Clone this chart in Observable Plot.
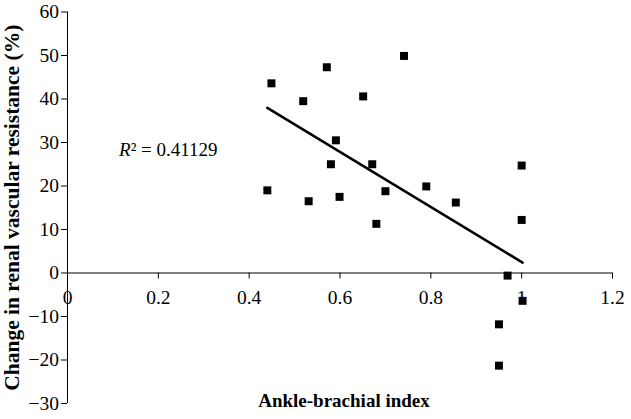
<!DOCTYPE html>
<html>
<head>
<meta charset="utf-8">
<script src="https://cdn.jsdelivr.net/npm/d3@7"></script>
<script src="https://cdn.jsdelivr.net/npm/@observablehq/plot@0.6"></script>
<style>
  html, body { margin: 0; padding: 0; background: #fff; }
  #chart svg { display: block; }
  #chart svg text { font-family: 'Liberation Serif', 'Times New Roman', serif; }
</style>
</head>
<body>
<div id="chart"></div>
<script>
// Ankle-brachial index (x) vs change in renal vascular resistance % (y)
const abi = [0.44, 0.449, 0.519, 0.571, 0.651, 0.741, 0.591, 0.580, 0.671, 0.531, 0.599,
             0.70, 0.79, 0.855, 0.68, 1.0, 1.0, 0.969, 1.002, 0.95, 0.95];
const rvrChange = [19.0, 43.6, 39.5, 47.3, 40.6, 49.9, 30.5, 25.0, 25.0, 16.5, 17.5,
                   18.8, 19.9, 16.2, 11.3, 24.7, 12.2, -0.6, -6.4, -11.8, -21.3];

const xTicks = [0, 0.2, 0.4, 0.6, 0.8, 1.0, 1.2];
const xTickLabels = ["0", "0.2", "0.4", "0.6", "0.8", "1", "1.2"];
const yTicks = [-30, -20, -10, 0, 10, 20, 30, 40, 50, 60];
const yTickLabels = ["−30", "−20", "−10", "0", "10", "20", "30", "40", "50", "60"];

const xTitle = "Ankle-brachial index";
const yTitle = "Change in renal vascular resistance (%)";
const r2Label = "R";
const r2Value = "² = 0.41129";

const points = abi.map((x, i) => ({x, y: rvrChange[i]}));
const xTickTable = xTicks.map((v, i) => ({v, label: xTickLabels[i]}));
const yTickTable = yTicks.map((v, i) => ({v, label: yTickLabels[i]}));

const serif = "'Liberation Serif', 'Times New Roman', serif";

const chart = Plot.plot({
  width: 631,
  height: 419,
  marginLeft: 67,
  marginRight: 19,
  marginTop: 11.5,
  marginBottom: 16,
  style: {fontFamily: serif, fontSize: "19px", color: "#000", background: "#fff"},
  x: {domain: [0, 1.2], axis: null},
  y: {domain: [-30, 60], axis: null},
  marks: [
    // axis lines
    Plot.ruleX([0], {stroke: "#000", strokeWidth: 1}),
    Plot.ruleY([0], {stroke: "#000", strokeWidth: 1}),
    // y ticks and labels
    Plot.ruleY(yTickTable, {y: "v", x1: () => 0, x2: () => 0, insetLeft: -6, stroke: "#000", strokeWidth: 1}),
    Plot.text(yTickTable, {x: () => 0, y: "v", dx: -8.5, textAnchor: "end", text: "label", fontSize: 19.5, fontFamily: serif, fill: "#000"}),
    // x ticks on the y=0 line, pointing down
    Plot.ruleX(xTickTable, {x: "v", y1: () => 0, y2: () => 0, insetBottom: -6, stroke: "#000", strokeWidth: 1}),
    Plot.text(xTickTable, {x: "v", y: () => 0, dy: 25, text: "label", fontSize: 19.5, fontFamily: serif, fill: "#000"}),
    // trend line
    Plot.linearRegressionY(points, {x: "x", y: "y", ci: 0, stroke: "#000", strokeWidth: 2.6}),
    // data points
    Plot.dot(points, {x: "x", y: "y", symbol: "square", r: 4.5, fill: "#000", stroke: "none"}),
    // R² annotation
    Plot.text([r2Label], {x: () => 0.139, y: () => 28.35, text: d => d, textAnchor: "end", fontStyle: "italic", fontSize: 19, fontFamily: serif, fill: "#000"}),
    Plot.text([r2Value], {x: () => 0.139, y: () => 28.35, text: d => d, textAnchor: "start", fontSize: 19, fontFamily: serif, fill: "#000"}),
    // axis titles
    Plot.text([xTitle], {frameAnchor: "bottom", dx: 4, dy: 3, text: d => d, textAnchor: "middle", fontWeight: "bold", fontSize: 19, fontFamily: serif, fill: "#000"}),
    Plot.text([yTitle], {frameAnchor: "left", dx: -55, rotate: -90, text: d => d, textAnchor: "middle", fontWeight: "bold", fontSize: 21.5, fontFamily: serif, fill: "#000"})
  ]
});

document.getElementById("chart").appendChild(chart);
</script>
</body>
</html>
